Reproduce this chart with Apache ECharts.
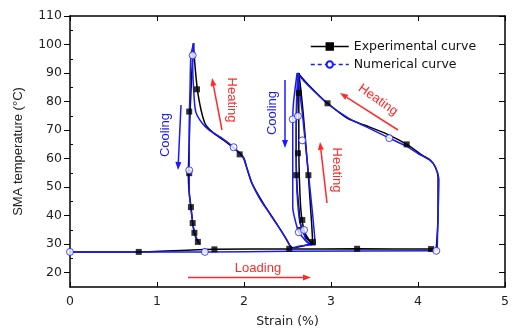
<!DOCTYPE html>
<html><head><meta charset="utf-8">
<script src="https://cdn.jsdelivr.net/npm/echarts@6/dist/echarts.min.js"></script>
<style>html,body{margin:0;padding:0;background:#fff}#c{width:512px;height:333px}</style>
</head><body><div id="c"></div>
<script>
// ---- Data (strain %, temperature °C) ----
const xTicks = [0,1,2,3,4,5];
const yTicks = [20,30,40,50,60,70,80,90,100,110];
const yMinorTicks = [25,35,45,55,65,75,85,95,105];

// Experimental curve segments
const expLoad  = [[0,27.3],[0.79,27.3],[1.66,28.2],[2.52,28.3],[3.3,28.4],[4.15,28.3],[4.21,28.5]];
const expHeat1 = [[4.21,28.5],[4.23,40],[4.23,53.5],[4.20,57],[4.14,59.5],[4.06,61],[3.87,65.0],[3.65,68.5],[3.39,71.7],[3.19,74.1],[2.96,79.4],[2.85,82.5],[2.72,86.5],[2.62,90]];
const expCool1 = [[2.62,90],[2.61,80],[2.60,70],[2.60,60],[2.61,50],[2.63,43],[2.65,37],[2.70,33],[2.75,31],[2.79,30]];
const expHeat2 = [[2.79,30],[2.78,36],[2.76,45],[2.74,54],[2.71,65],[2.68,76],[2.65,85],[2.63,90]];
const expCool2 = [[2.63,90],[2.63,80],[2.63,65],[2.64,50],[2.66,40],[2.70,34],[2.76,31],[2.78,30.5],[2.65,29.2],[2.54,28.7]];
const expHeat3 = [[2.54,28.7],[2.48,32.1],[2.37,37.4],[2.22,44.4],[2.09,51.4],[2.03,57.0],[2.00,60.1],[1.94,62.2],[1.77,66.4],[1.64,69.2],[1.55,72.4],[1.47,82.9],[1.43,95],[1.42,100.4]];
const expCool3 = [[1.42,100.4],[1.40,90],[1.38,76.2],[1.37,64.7],[1.36,54.5],[1.37,48],[1.39,43.2],[1.41,37.5],[1.43,34],[1.45,32],[1.48,30.5]];
const expMarks = [[0.79,27.3],[1.66,28.2],[2.52,28.4],[3.30,28.4],[4.15,28.3],[3.87,65.0],[2.96,79.4],[1.95,61.5],[1.46,84.3],[1.37,76.5],[1.37,54.9],[1.39,43.0],[1.41,37.4],[1.43,34.0],[1.47,30.8],[2.62,61.9],[2.60,54.2],[2.67,38.5],[2.74,54.2],[2.65,35.0],[2.79,30.8],[2.63,83.0]];

// Numerical curve segments
const numLoad  = [[0,27.3],[1.55,27.3],[2.5,27.5],[4.2,27.7]];
const numHeat1 = [[4.22,27.8],[4.23,40],[4.24,52.4],[4.20,57],[4.14,59.4],[4.00,61.8],[3.87,64.3],[3.67,67.2],[3.40,71.2],[3.20,74.2],[2.95,79.5],[2.80,83.8],[2.68,87.5],[2.61,90]];
const numCool1 = [[2.61,90],[2.57,80],[2.56,74],[2.56,60],[2.56,50],[2.56,43],[2.60,37],[2.63,34.2],[2.70,31.5],[2.77,29.8],[2.82,29.8]];
const numHeat2 = [[2.82,29.8],[2.79,40],[2.75,52],[2.71,64],[2.67,76],[2.63,86],[2.62,90]];
const numCool2 = [[2.62,90],[2.60,75],[2.60,60],[2.61,48],[2.64,38],[2.68,34.5],[2.72,31],[2.78,29.8]];
const numTrans = [[2.78,29.8],[2.62,29.2],[2.55,28.3]];
const numHeat3 = [[2.55,28.3],[2.50,31],[2.42,35],[2.30,40.5],[2.18,46],[2.09,51.5],[2.03,57],[1.98,61],[1.88,64],[1.73,67.5],[1.60,70],[1.52,72.4],[1.45,76],[1.43,80],[1.41,93.4],[1.42,100.4]];
const numCool3 = [[1.42,100.4],[1.39,96.2],[1.38,85],[1.37,70],[1.37,55.9],[1.37,49],[1.40,40],[1.43,34],[1.49,30]];
const numMarks = [[0,27.3],[1.55,27.3],[4.21,27.7],[3.67,67.2],[2.56,73.8],[2.62,74.9],[2.67,66.4],[2.63,34.2],[2.69,35.0],[1.88,64.0],[1.37,55.9],[1.41,96.2]];

const BLACK = '#000000', BLUE = '#1a1aff', RED = '#ff2a2a';
const FONT = 'Liberation Sans, Arial, sans-serif';

function lineSeries(name, data, color, first, sym) {
  return {
    name: name, type: 'line', xAxisIndex: 0, yAxisIndex: 0,
    data: data.map(p => ({value: p, symbol: 'none'})),
    symbol: sym, symbolSize: sym === 'rect' ? 6 : 7, showSymbol: true,
    itemStyle: {color: sym === 'rect' ? color : '#fff', borderColor: color, borderWidth: 1},
    lineStyle: {color: color, width: 1.5},
    smooth: 0.25, animation: false, z: sym === 'rect' ? 3 : 4
  };
}
const series = [];
series.push(lineSeries('Experimental curve', expLoad, BLACK, true, 'rect'));
[expHeat1, expCool1, expHeat2, expCool2, expHeat3, expCool3].forEach(d => series.push(lineSeries('Experimental curve', d, BLACK, false, 'rect')));
series.push({name:'Experimental curve', type:'scatter', data: expMarks, symbol:'rect', symbolSize:6, itemStyle:{color:BLACK}, z:5, animation:false});
series.push(lineSeries('Numerical curve', numLoad, BLUE, true, 'circle'));
[numHeat1, numCool1, numHeat2, numCool2, numTrans, numHeat3, numCool3].forEach(d => series.push(lineSeries('Numerical curve', d, BLUE, false, 'circle')));
series.push({name:'Numerical curve', type:'scatter', data: numMarks, symbol:'circle', symbolSize:7, itemStyle:{color:'#fff', borderColor:BLUE, borderWidth:1}, z:6, animation:false});

function arrow(x1, y1, x2, y2, color) {
  const ang = Math.atan2(y2 - y1, x2 - x1), L = 8, W = 3;
  const bx = x2 - L * Math.cos(ang), by = y2 - L * Math.sin(ang);
  const px = -Math.sin(ang) * W, py = Math.cos(ang) * W;
  return [
    {type:'line', shape:{x1:x1, y1:y1, x2:bx, y2:by}, style:{stroke:color, lineWidth:1.5}, silent:true},
    {type:'polygon', shape:{points:[[x2,y2],[bx+px,by+py],[bx-px,by-py]]}, style:{fill:color}, silent:true}
  ];
}
function label(text, x, y, rot, color) {
  return {type:'text', x:x, y:y, rotation: rot * Math.PI / 180,
    style:{text:text, fill:color, font:'13px ' + FONT, align:'center', verticalAlign:'middle'}, silent:true};
}
const graphics = [].concat(
  [label('Cooling', 165, 135, 90, BLUE)], arrow(181, 105, 178, 170, BLUE),
  [label('Heating', 232, 100, -90, RED)], arrow(222, 130, 212, 78, RED),
  [label('Cooling', 272, 113, 90, BLUE)], arrow(285, 80, 285, 148, BLUE),
  [label('Heating', 337, 170, -90, RED)], arrow(327, 203, 320, 142, RED),
  [label('Heating', 378, 100, -35, RED)], arrow(398, 130, 340, 93, RED),
  [label('Loading', 258, 268, 0, RED)], arrow(188, 277.5, 311, 277.5, RED)
);

const axisFont = {fontFamily:'DejaVu Sans', fontSize:12.5, color:'#222'};
const option = {
  backgroundColor: '#fff',
  animation: false,
  grid: {left:70, top:16, width:443, bottom:46, containLabel:false},
  legend: {
    orient:'vertical', left:305, top:35, itemWidth:38, itemHeight:8, itemGap:5,
    textStyle:{fontFamily:'DejaVu Sans', fontSize:12.5, color:'#111'},
    data:[
      {name:'Experimental curve', lineStyle:{color:BLACK, width:1.5, type:'solid'}},
      {name:'Numerical curve', lineStyle:{color:BLUE, width:1.5, type:[4,3]}}
    ]
  },
  xAxis: [
    {type:'value', min:0, max:5, interval:1, position:'bottom',
     axisLine:{show:true, onZero:false, lineStyle:{color:'#000', width:1.5}},
     axisTick:{show:true, inside:true, length:5, lineStyle:{color:'#000'}},
     axisLabel:Object.assign({margin:8, customValues:xTicks}, axisFont),
     splitLine:{show:false},
     name:'Strain (%)', nameLocation:'middle', nameGap:28,
     nameTextStyle:{fontFamily:'DejaVu Sans', fontSize:12.5, color:'#222'}},
    {type:'value', min:0, max:5, interval:1, position:'top',
     axisLine:{show:true, onZero:false, lineStyle:{color:'#000', width:1.5}},
     axisTick:{show:true, inside:true, length:5, lineStyle:{color:'#000'}},
     axisLabel:{show:false}, splitLine:{show:false}}
  ],
  yAxis: [
    {type:'value', min:15, max:110, position:'left',
     axisLine:{show:true, onZero:false, lineStyle:{color:'#000', width:1.5}},
     axisTick:{show:true, inside:false, length:6, customValues:yTicks, lineStyle:{color:'#000'}},
     axisLabel:Object.assign({margin:8, customValues:yTicks}, axisFont),
     splitLine:{show:false},
     name:'SMA temperature (°C)', nameLocation:'middle', nameGap:45,
     nameTextStyle:{fontFamily:FONT, fontSize:13, color:'#222'}},
    {type:'value', min:15, max:110, position:'left',
     axisLine:{show:false},
     axisTick:{show:true, inside:true, length:3, customValues:yMinorTicks, lineStyle:{color:'#000'}},
     axisLabel:{show:false}, splitLine:{show:false}},
    {type:'value', min:15, max:110, position:'right',
     axisLine:{show:true, onZero:false, lineStyle:{color:'#000', width:1.5}},
     axisTick:{show:true, inside:true, length:6, customValues:yTicks, lineStyle:{color:'#000'}},
     axisLabel:{show:false}, splitLine:{show:false}}
  ],
  series: series,
  graphic: graphics
};
const chart = echarts.init(document.getElementById('c'), null, {renderer:'canvas'});
chart.setOption(option);
</script></body></html>
